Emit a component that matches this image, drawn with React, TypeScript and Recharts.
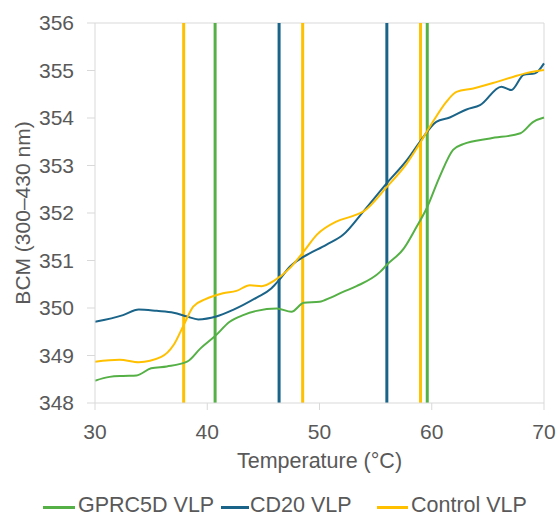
import React from 'react';
import { LineChart, Line, XAxis, YAxis, ReferenceLine, Legend } from 'recharts';

// readings taken off the original figure
const gprcTemps = [30, 31.3, 32.5, 33.7, 35.0, 36.4, 38.2, 39.4, 40.7, 42.0, 43.2, 44.4, 46.2, 47.5, 48.6, 50.0, 51.0, 52.1, 53.3, 55.4, 56.0, 57.5, 58.65, 59.55, 60.7, 61.9, 62.8, 65.2, 67.9, 69.05, 70];
const gprcBcm = [348.47, 348.55, 348.57, 348.58, 348.73, 348.77, 348.87, 349.15, 349.41, 349.71, 349.85, 349.94, 349.99, 349.92, 350.11, 350.13, 350.22, 350.34, 350.46, 350.76, 350.91, 351.25, 351.71, 352.1, 352.76, 353.33, 353.45, 353.57, 353.68, 353.92, 354.01];

const cd20Temps = [30, 32.5, 33.9, 35.5, 37.0, 38.2, 39.2, 40.8, 42.3, 44.4, 45.7, 46.4, 47.4, 48.6, 50.6, 52.1, 53.9, 56.0, 57.8, 58.95, 60.4, 61.6, 63.1, 64.3, 66.2, 67.1, 68.2, 69.2, 70];
const cd20Bcm = [349.71, 349.85, 349.97, 349.94, 349.9, 349.82, 349.76, 349.82, 349.96, 350.22, 350.41, 350.59, 350.88, 351.08, 351.33, 351.54, 352.03, 352.63, 353.12, 353.5, 353.92, 354.01, 354.18, 354.27, 354.66, 354.59, 354.91, 354.94, 355.15];

const ctrlTemps = [30, 32.2, 33.9, 35.9, 37.0, 37.9, 38.75, 39.8, 41.4, 42.6, 43.8, 44.85, 46.0, 47.4, 48.6, 49.75, 51.5, 53.0, 53.9, 56.0, 57.8, 58.95, 60.1, 61.3, 62.2, 63.7, 65.8, 67.3, 68.5, 70];
const ctrlBcm = [348.87, 348.91, 348.86, 348.97, 349.22, 349.64, 350.03, 350.18, 350.31, 350.36, 350.48, 350.46, 350.58, 350.85, 351.19, 351.54, 351.82, 351.94, 352.03, 352.55, 353.05, 353.47, 353.92, 354.34, 354.55, 354.62, 354.76, 354.87, 354.95, 355.01];

// transition temperatures (vertical markers)
const gprcTm = [40.7, 59.6];
const cd20Tm = [46.4, 56.0];
const ctrlTm = [37.9, 48.5, 59.0];

const xTicks = [30, 40, 50, 60, 70];
const yTicks = [348, 349, 350, 351, 352, 353, 354, 355, 356];

const GREEN = '#55b046';
const BLUE = '#1a6489';
const YELLOW = '#ffc000';
const TEXT = '#595959';
const AXIS = '#d9d9d9';
const FONT = 'Liberation Sans, Arial, sans-serif';

const toRows = (temps: number[], vals: number[]) => temps.map((t, i) => ({ temp: t, bcm: vals[i] }));

const series = [
  { name: 'GPRC5D VLP', color: GREEN, data: toRows(gprcTemps, gprcBcm) },
  { name: 'CD20 VLP', color: BLUE, data: toRows(cd20Temps, cd20Bcm) },
  { name: 'Control VLP', color: YELLOW, data: toRows(ctrlTemps, ctrlBcm) },
];

const markers = [
  ...gprcTm.map((x) => ({ x, color: GREEN })),
  ...cd20Tm.map((x) => ({ x, color: BLUE })),
  ...ctrlTm.map((x) => ({ x, color: YELLOW })),
];

const legendLines = [[43, 32], [221, 28], [377, 31]];
const legendText = [78, 250, 411];

const LegendContent = () => (
  <div style={{ height: 44, position: 'relative', fontFamily: FONT }}>
    {series.map((s, i) => (
      <React.Fragment key={s.name}>
        <span
          style={{
            position: 'absolute',
            left: legendLines[i][0],
            top: 33,
            width: legendLines[i][1],
            height: 3,
            background: s.color,
          }}
        />
        <span
          style={{
            position: 'absolute',
            left: legendText[i],
            top: 22,
            fontSize: 21.5,
            lineHeight: '20px',
            color: TEXT,
            whiteSpace: 'nowrap',
          }}
        >
          {s.name}
        </span>
      </React.Fragment>
    ))}
  </div>
);

const App: React.FC = () => {
  return (
    <div style={{ position: 'absolute', left: 0, top: 0 }}>
      <LineChart
        width={558}
        height={517}
        margin={{ top: 23, right: 14, left: 0, bottom: 0 }}
        style={{ fontFamily: FONT }}
      >
        <XAxis
          dataKey="temp"
          type="number"
          domain={[30, 70]}
          ticks={xTicks}
          allowDuplicatedCategory={false}
          height={70}
          stroke={AXIS}
          tickSize={7}
          tickMargin={14}
          tick={{ fill: TEXT, fontSize: 21 }}
          label={{ value: 'Temperature (°C)', position: 'insideTop', offset: 50, fill: TEXT, fontSize: 21.5 }}
        />
        <YAxis
          type="number"
          domain={[348, 356]}
          ticks={yTicks}
          width={95}
          stroke={AXIS}
          tickSize={8}
          tickMargin={13}
          tick={{ fill: TEXT, fontSize: 21 }}
          label={{
            value: 'BCM (300–430 nm)',
            angle: -90,
            position: 'insideLeft',
            offset: 23,
            fill: TEXT,
            fontSize: 21,
            style: { textAnchor: 'middle' },
          }}
        />
        <ReferenceLine y={356} stroke={AXIS} strokeWidth={1} />
        <ReferenceLine x={70} stroke={AXIS} strokeWidth={1} />
        {markers.map((m, i) => (
          <ReferenceLine key={i} x={m.x} stroke={m.color} strokeWidth={3} />
        ))}
        {series.map((s) => (
          <Line
            key={s.name}
            data={s.data}
            dataKey="bcm"
            name={s.name}
            type="monotone"
            stroke={s.color}
            strokeWidth={2}
            dot={false}
            isAnimationActive={false}
          />
        ))}
        <Legend
          verticalAlign="bottom"
          height={44}
          content={() => <LegendContent />}
          wrapperStyle={{ left: 0, width: 558 }}
        />
      </LineChart>
    </div>
  );
};

export default App;
